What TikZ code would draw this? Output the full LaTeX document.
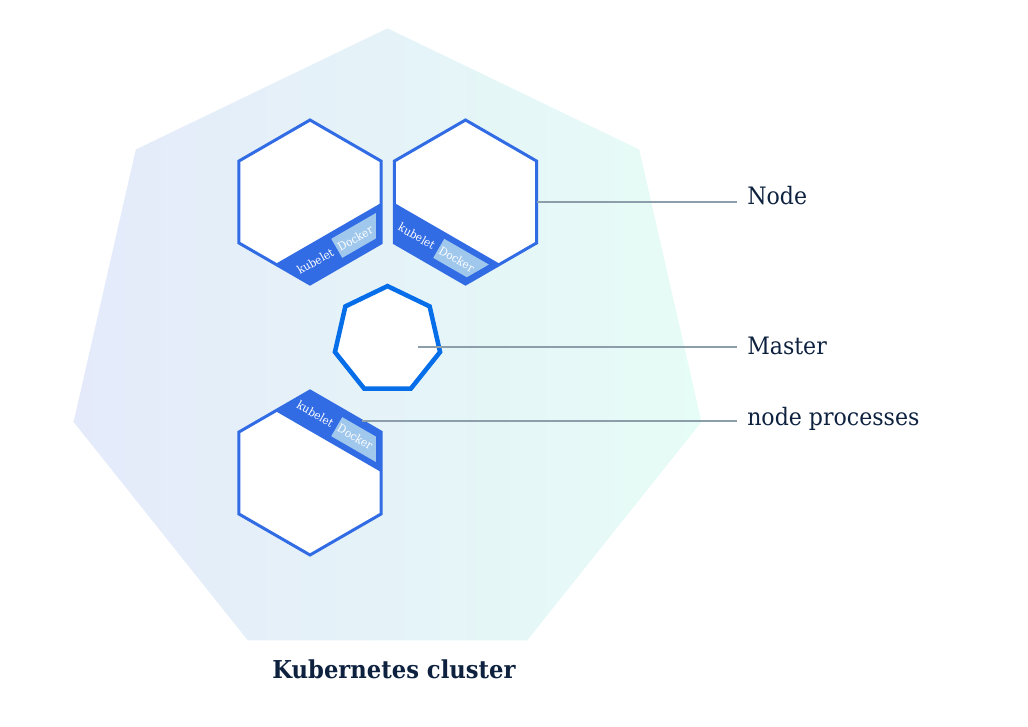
\documentclass[tikz,border=0pt]{standalone}
\usepackage{fontspec}
\setmainfont[FakeStretch=0.92]{DejaVu Serif}
\usepackage{tikz}
\usetikzlibrary{shapes.geometric}
\definecolor{kubeblue}{RGB}{50,108,229}
\definecolor{masterblue}{RGB}{6,110,232}
\definecolor{dockerblue}{RGB}{160,200,236}
\definecolor{leadergray}{RGB}{140,158,170}
\definecolor{labelnavy}{RGB}{14,34,64}
\definecolor{clusterleft}{RGB}{228,234,250}
\definecolor{clustermid}{RGB}{230,243,250}
\definecolor{clusterright}{RGB}{230,252,246}

% band with kubelet and Docker along one edge of a node hexagon
% #1 node name, #2 angle of the edge, #3 side (-1 below, 1 above)
\newcommand{\kubeband}[3]{%
  \begin{scope}
    \clip (#1.corner 1) -- (#1.corner 2) -- (#1.corner 3) -- (#1.corner 4) -- (#1.corner 5) -- (#1.corner 6) -- cycle;
    \fill[kubeblue, shift={(#1.center)}, rotate=#2] (-120,{#3*36.4}) rectangle (120,{#3*90});
  \end{scope}
  \begin{scope}[shift={(#1.center)}]
    \clip (90:76) -- (30:76) -- (-30:76) -- (-90:76) -- (-150:76) -- (150:76) -- cycle;
    \fill[dockerblue, rotate=#2] (0,{#3*42.5}) rectangle (120,{#3*64.5});
  \end{scope}
  \begin{scope}[shift={(#1.center)}, rotate=#2]
    \node[bandtext] (#1-kubelet) at (-25,{#3*54}) {kubelet};
    \node[bandtext] (#1-docker) at (21,{#3*54}) {Docker};
  \end{scope}
}

\begin{document}
\begin{tikzpicture}[x=0.75pt, y=0.75pt,
    hexnode/.style={regular polygon, regular polygon sides=6, shape border rotate=30, minimum size=123pt, inner sep=0pt, outer sep=0pt, draw=kubeblue, line width=2.25pt, fill=white},
    bandtext/.style={font=\fontsize{8.6}{10}\selectfont, text=white, inner sep=0pt, transform shape},
    lbl/.style={font=\fontsize{18}{22}\selectfont, text=labelnavy, anchor=base west, inner xsep=7.5pt, inner ysep=0pt},
    leader/.style={draw=leadergray, line width=1.1pt}]
    \useasboundingbox (0,0) rectangle (1028,-726);

    \node [regular polygon, regular polygon sides=7, minimum size=483pt, inner sep=0pt, outer sep=0pt,
           left color=clusterleft, middle color=clustermid, right color=clusterright] (cluster) at (387.5,-350.3) {};

    \node [hexnode] (hexa) at (310,-202) {};
    \kubeband{hexa}{30}{-1}
    \node [hexnode] (hexb) at (465.5,-202) {};
    \kubeband{hexb}{-30}{-1}
    \node [hexnode] (hexc) at (310,-473) {};
    \kubeband{hexc}{-30}{1}

    \node [regular polygon, regular polygon sides=7, minimum size=80.85pt, inner sep=0pt, outer sep=0pt,
           draw=masterblue, line width=3.4pt, fill=white] (master) at (387.5,-340) {};

    \node [lbl] (nodelbl) at (737,-204) {Node};
    \node [lbl] (masterlbl) at (737,-354) {Master};
    \node [lbl] (proclbl) at (737,-425) {node processes};

    \coordinate (masterpt) at (418,-347);
    \coordinate (procpt) at (362,-421);
    \draw [leader] (hexb.east) -- (hexb.east -| nodelbl.west);
    \draw [leader] (masterpt) -- (masterpt -| masterlbl.west);
    \draw [leader] (procpt) -- (procpt -| proclbl.west);

    \node [font=\fontsize{18.5}{22}\selectfont\bfseries, text=labelnavy, anchor=base] (title) at (394,-678) {Kubernetes cluster};
\end{tikzpicture}
\end{document}
